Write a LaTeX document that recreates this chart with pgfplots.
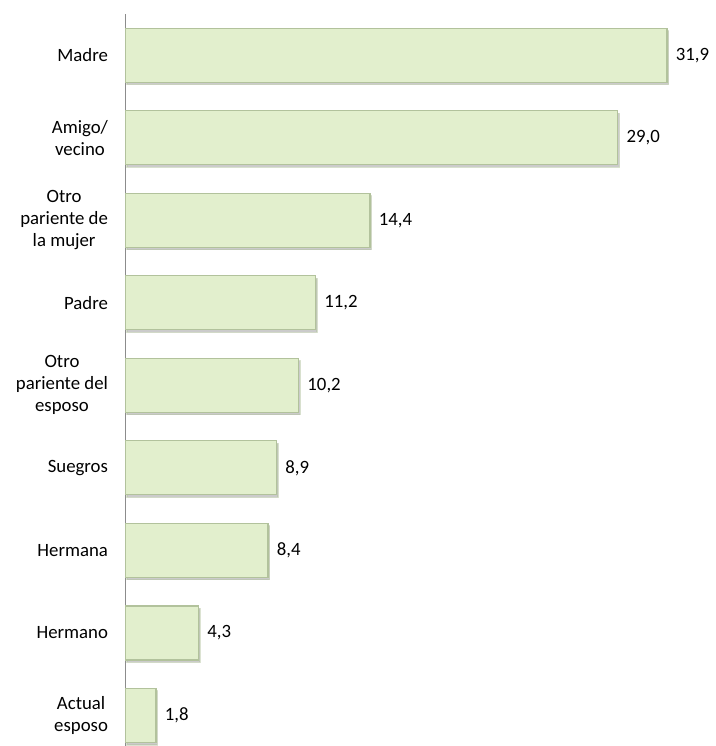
\documentclass[border=0pt]{standalone}
\usepackage{fontspec}
\setmainfont{Carlito}
\usepackage{pgfplots}
\pgfplotsset{compat=1.18}
\usetikzlibrary{shadows}
\definecolor{barfill}{RGB}{226,239,205}
\definecolor{baredge}{RGB}{178,194,156}
\definecolor{axgray}{RGB}{140,140,140}
\begin{document}
\fontsize{18.8bp}{22bp}\selectfont
\begin{tikzpicture}
\begin{axis}[
  scale only axis,
  width=586.5bp, height=732bp,
  xmin=0, xmax=34.52,
  ymin=-0.364, ymax=8.5,
  xbar, bar width=54bp,
  axis x line=none,
  axis y line=left,
  axis line style={-, draw=axgray, line width=1bp},
  ytick={0,...,8},
  yticklabels={{Actual\\esposo},{Hermano},{Hermana},{Suegros},{Otro\\pariente del\\esposo},{Padre},{Otro\\pariente de\\la mujer},{Amigo/\\vecino},{Madre}},
  major tick length=0pt,
  yticklabel style={align=center, font=\fontsize{18.8bp}{22bp}\selectfont, xshift=-11bp},
  nodes near coords,
  nodes near coords style={font=\fontsize{18.8bp}{22bp}\selectfont, black, xshift=2bp,
    /pgf/number format/.cd, fixed, fixed zerofill, precision=1, use comma, assume math mode=true},
  clip=false,
]
\addplot[fill=barfill, draw=baredge, line width=1.2bp,
  drop shadow={shadow xshift=1.5bp, shadow yshift=-2.5bp, fill=black!45, opacity=0.45}] coordinates {
 (1.8,0) (4.3,1) (8.4,2) (8.9,3) (10.2,4) (11.2,5) (14.4,6) (29.0,7) (31.9,8)
};
\end{axis}
\path ([xshift=-125.5bp,yshift=14bp]current axis.north west);
\end{tikzpicture}
\end{document}
